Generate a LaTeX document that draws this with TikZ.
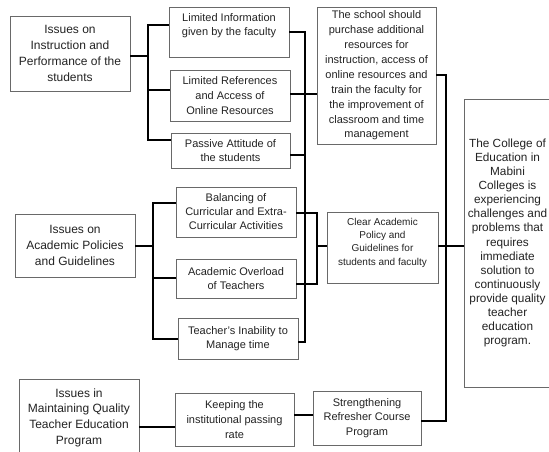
\documentclass[tikz,border=0pt]{standalone}
\usepackage{fontspec}
\setmainfont{Liberation Sans}
\definecolor{boxgray}{RGB}{105,105,105}
\definecolor{txtcol}{RGB}{35,35,35}
\begin{document}
\begin{tikzpicture}[x=1pt,y=-1pt,
  box/.style={draw=boxgray, line width=0.8pt, fill=white, align=center, inner sep=0pt, text=txtcol},
  txt/.style={align=center, inner sep=0pt, text=txtcol},
  conn/.style={line width=2.4pt, draw=black, line join=miter},
  fl/.style={font=\fontsize{12}{16}\selectfont},
  fm/.style={font=\fontsize{11}{14.6}\selectfont},
  fr/.style={font=\fontsize{11.8}{14.1}\selectfont},
  fs/.style={font=\fontsize{10}{13.3}\selectfont}]
\useasboundingbox (0,0) rectangle (549,452);
\clip (0,0) rectangle (549,452);
\fill[white] (0,0) rectangle (549,452);

% left column
\node[box, fl, minimum width=120pt, minimum height=75pt] (L1) at (70,53.5)
  {Issues on\\Instruction and\\Performance of the\\students};
\node[box, fl, minimum width=120pt, minimum height=63pt] (L2) at (75,245.5)
  {Issues on\\Academic Policies\\and Guidelines};
\node[box, font=\fontsize{12}{15.7}\selectfont, minimum width=120pt, minimum height=77pt] (L3) at (79,417.5)
  {Issues in\\Maintaining Quality\\Teacher Education\\Program};

% middle column
\node[box, minimum width=120pt, minimum height=50pt] (M1) at (229,32) {};
\node[txt, fm] at (229,25.5) {Limited Information\\given by the faculty};
\node[box, fm, minimum width=120pt, minimum height=51pt] (M2) at (230,95.5)
  {Limited References\\and Access of\\Online Resources};
\node[box, fm, minimum width=119pt, minimum height=35pt] (M3) at (230.5,150.5)
  {Passive Attitude of\\the students};
\node[box, font=\fontsize{11}{14}\selectfont, minimum width=120pt, minimum height=50pt] (M4) at (236,212)
  {Balancing of\\Curricular and Extra-\\Curricular Activities};
\node[box, fm, minimum width=120pt, minimum height=39pt] (M5) at (236,278.5)
  {Academic Overload\\of Teachers};
\node[box, fm, minimum width=120pt, minimum height=41pt] (M6) at (238,338.5)
  {Teacher’s Inability to\\Manage time};
\node[box, font=\fontsize{11}{14.8}\selectfont, minimum width=119pt, minimum height=53pt] (M7) at (234.5,419.5)
  {Keeping the\\institutional passing\\rate};

% solutions column
\node[box, font=\fontsize{11}{14.9}\selectfont, minimum width=119pt, minimum height=137pt] (S1) at (376.5,75.5)
  {The school should\\purchase additional\\resources for\\instruction, access of\\online resources and\\train the faculty for\\the improvement of\\classroom and time\\management};
\node[box, minimum width=111pt, minimum height=71pt] (S2) at (382.5,247.5) {};
\node[txt, fs] at (382.5,242.5) {Clear Academic\\Policy and\\Guidelines for\\students and faculty};
\node[box, font=\fontsize{11}{14.6}\selectfont, minimum width=108pt, minimum height=54pt] (S3) at (367,418)
  {Strengthening\\Refresher Course\\Program};

% result
\node[box, fr, minimum width=87pt, minimum height=288pt] (R) at (507.5,243)
  {The College of\\Education in\\Mabini\\Colleges is\\experiencing\\challenges and\\problems that\\requires\\immediate\\solution to\\continuously\\provide quality\\teacher\\education\\program.};

% junctions
\coordinate (jA) at (148,56);
\coordinate (jB) at (305,155);
\coordinate (jC) at (317,246);
\coordinate (jD) at (153,246);
\coordinate (jE) at (446,246);

% bracket L1 -> M1..M3
\draw[conn] (L1.east |- jA) -- (jA);
\draw[conn] (M1.west |- 0,25) -| (148,140) -- (M3.west |- 0,140);
\draw[conn] (148,90) -- (M2.west |- 0,90);

% bracket M1..M3, M6 -> S1
\draw[conn] (M1.east |- 0,32) -| (305,342) -- (M6.east |- 0,342);
\draw[conn] (M2.east |- 0,94) -- (S1.west |- 0,94);
\draw[conn] (M3.east |- jB) -- (jB);

% bracket M4, M5 -> S2
\draw[conn] (M4.east |- 0,213) -| (317,284) -- (M5.east |- 0,284);
\draw[conn] (jC) -- (S2.west |- jC);

% bracket L2 -> M4..M6
\draw[conn] (L2.east |- jD) -- (jD);
\draw[conn] (M4.west |- 0,203) -| (153,339) -- (M6.west |- 0,339);
\draw[conn] (153,278) -- (M5.west |- 0,278);

% right bracket -> R
\draw[conn] (S1.east |- 0,75) -| (446,421) -- (S3.east |- 0,421);
\draw[conn] (S2.east |- jE) -- (R.west |- jE);

% bottom chain
\draw[conn] (L3.east |- 0,427) -- (M7.west |- 0,427);
\draw[conn] (M7.east |- 0,415) -- (S3.west |- 0,415);
\end{tikzpicture}
\end{document}
